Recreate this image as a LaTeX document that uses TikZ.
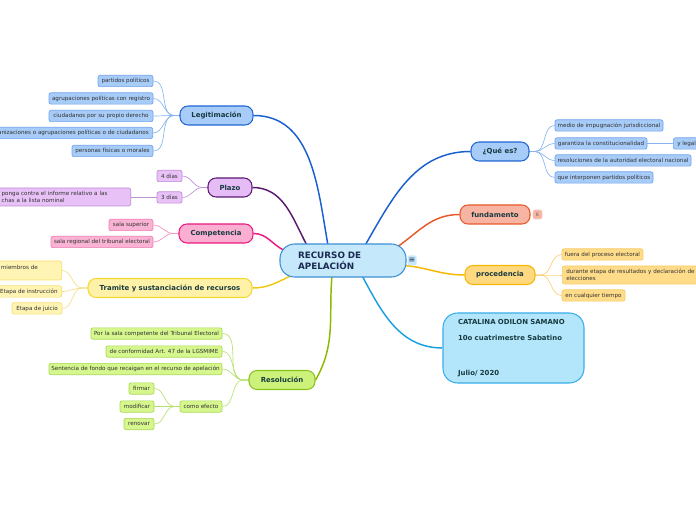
\documentclass[tikz,border=0pt]{standalone}
\usepackage{fontspec}
\setmainfont{DejaVu Sans}
\usetikzlibrary{backgrounds,calc}
\definecolor{bfill}{HTML}{A8CCF8}
\definecolor{bdraw}{HTML}{2266D4}
\definecolor{bldraw}{HTML}{6FA2EE}
\definecolor{bconn}{HTML}{1A5FD0}
\definecolor{blconn}{HTML}{8AB4F0}
\definecolor{pfill}{HTML}{E6BCF6}
\definecolor{pdraw}{HTML}{5C1A74}
\definecolor{plfill}{HTML}{E8C2F7}
\definecolor{pldraw}{HTML}{C08AD8}
\definecolor{pconn}{HTML}{5A1870}
\definecolor{plconn}{HTML}{C090D8}
\definecolor{kfill}{HTML}{F9AED2}
\definecolor{kdraw}{HTML}{EA1A80}
\definecolor{klfill}{HTML}{F9B4D4}
\definecolor{kldraw}{HTML}{F27AB4}
\definecolor{klconn}{HTML}{F590C0}
\definecolor{yfill}{HTML}{FFF2A8}
\definecolor{ydraw}{HTML}{F2D832}
\definecolor{ylfill}{HTML}{FFF4B4}
\definecolor{yldraw}{HTML}{F4E070}
\definecolor{yconn}{HTML}{F0C810}
\definecolor{ylconn}{HTML}{F2E08A}
\definecolor{gfill}{HTML}{CDF27C}
\definecolor{gdraw}{HTML}{8CC21E}
\definecolor{glfill}{HTML}{D6F68E}
\definecolor{gldraw}{HTML}{A9D852}
\definecolor{gconn}{HTML}{8CB800}
\definecolor{glconn}{HTML}{B8E070}
\definecolor{ofill}{HTML}{F8B4A2}
\definecolor{odraw}{HTML}{E8582A}
\definecolor{afill}{HTML}{FFD880}
\definecolor{adraw}{HTML}{F5B800}
\definecolor{alfill}{HTML}{FFDC8A}
\definecolor{aldraw}{HTML}{F6CC60}
\definecolor{alconn}{HTML}{F8D070}
\definecolor{catfill}{HTML}{B3E5FB}
\definecolor{catdraw}{HTML}{3AAEE8}
\definecolor{catconn}{HTML}{1AA0E0}
\definecolor{cfill}{HTML}{C6E8FB}
\definecolor{cdraw}{HTML}{3D8FD3}
\definecolor{ctext}{HTML}{1A2A50}
\definecolor{mtext}{HTML}{173B40}
\definecolor{ltext}{HTML}{303030}
\begin{document}
\begin{tikzpicture}[x=0.75pt,y=-0.75pt,
  leaf/.style={draw, line width=0.5pt, rounded corners=1.5pt, inner xsep=0pt, inner ysep=0pt,
    minimum height=8.5pt, text=ltext, font=\fontsize{4.2}{5}\selectfont},
  sz/.style={minimum width=#1*0.75pt},
  mnode/.style={draw, line width=0.8pt, rounded corners=6pt, inner sep=0pt, minimum height=14.25pt,
    text=mtext, font=\fontsize{5.2}{6.2}\selectfont\bfseries},
  bleaf/.style={leaf, fill=bfill, draw=bldraw},
  pleaf/.style={leaf, fill=plfill, draw=pldraw},
  kleaf/.style={leaf, fill=klfill, draw=kldraw},
  yleaf/.style={leaf, fill=ylfill, draw=yldraw},
  gleaf/.style={leaf, fill=glfill, draw=gldraw},
  aleaf/.style={leaf, fill=alfill, draw=aldraw},
  mconn/.style={line width=1.1pt},
  lconn/.style={line width=0.5pt}]
\useasboundingbox (0,0) rectangle (696,520);

% central
\node[draw=cdraw, fill=cfill, line width=0.8pt, rounded corners=11pt, minimum width=126*0.75pt,
  minimum height=33*0.75pt, text width=90*0.75pt, inner xsep=18*0.75pt, inner ysep=0pt, align=left,
  font=\fontsize{6.6}{8.25}\selectfont\bfseries, text=ctext] (c) at (343,260.5) {RECURSO DE\\APELACIÓN};
\node[fill=cfill, rounded corners=1pt, minimum width=9*0.75pt, minimum height=10*0.75pt, inner sep=0pt,
  text=ctext, font=\fontsize{6}{6}\selectfont] (menu) at (412,260.5) {≡};

% Legitimacion
\node[mnode, fill=bfill, draw=bdraw, sz=73] (leg) at (216.5,115.5) {Legitimación};
\node[bleaf, sz=55] (l1) at (125.5,81) {partidos políticos};
\node[bleaf, sz=104] (l2) at (101,98.5) {agrupaciones políticas con registro};
\node[bleaf, sz=104] (l3) at (101,116) {ciudadanos por su propio derecho};
\node[bleaf, anchor=east, inner xsep=3pt] (l4) at (153,133) {organizaciones o agrupaciones políticas o de ciudadanos};
\node[bleaf, sz=81] (l5) at (112.5,151) {personas físicas o morales};

% Plazo
\node[mnode, fill=pfill, draw=pdraw, sz=44] (plz) at (230,187.5) {Plazo};
\node[pleaf, sz=25] (p1) at (169.5,176) {4 días};
\node[pleaf, sz=25] (p2) at (169.5,197.5) {3 días};
\node[pleaf, anchor=east, text width=125*0.75pt, align=left, inner xsep=3pt, minimum height=18*0.75pt,
  font=\fontsize{4.2}{5.2}\selectfont] (p3) at (131,197) {ponga contra el informe relativo a las\\chas a la lista nominal};

% Competencia
\node[mnode, fill=kfill, draw=kdraw, sz=74] (comp) at (216,233.5) {Competencia};
\node[kleaf, sz=44] (k1) at (131,225) {sala superior};
\node[kleaf, sz=102] (k2) at (102,242) {sala regional del tribunal electoral};

% Tramite
\node[mnode, fill=yfill, draw=ydraw, sz=164] (tram) at (170,288) {Tramite y sustanciación de recursos};
\node[yleaf, anchor=east, text width=58*0.75pt, align=left, inner xsep=2pt, minimum height=19*0.75pt,
  font=\fontsize{4.2}{5.4}\selectfont] (t1) at (62,270.5) {miembros de\\ \mbox{}};
\node[yleaf, anchor=east, inner xsep=3pt] (t2) at (62,291.5) {Etapa de instrucción};
\node[yleaf, sz=50] (t3) at (37,308.5) {Etapa de juicio};

% Resolucion
\node[mnode, fill=gfill, draw=gdraw, sz=66] (res) at (282,380) {Resolución};
\node[gleaf, sz=131] (r1) at (156.5,333.5) {Por la sala competente del Tribunal Electoral};
\node[gleaf, sz=116] (r2) at (164,351.5) {de conformidad Art. 47 de la LGSMIME};
\node[gleaf, sz=173] (r3) at (135.5,369) {Sentencia de fondo que recaigan en el recurso de apelación};
\node[gleaf, sz=42] (r4) at (201,406.5) {como efecto};
\node[gleaf, sz=25] (r5) at (141.5,388.5) {firmar};
\node[gleaf, sz=34] (r6) at (137,406.5) {modificar};
\node[gleaf, sz=30] (r7) at (139,424) {renovar};

% Que es
\node[mnode, fill=bfill, draw=bdraw, sz=58] (que) at (500,151.5) {¿Qué es?};
\node[bleaf, sz=108] (q1) at (609,125.5) {medio de impugnación jurisdiccional};
\node[bleaf, sz=92] (q2) at (601,143.5) {garantiza la constitucionalidad};
\node[bleaf, anchor=west, inner xsep=3pt] (q2a) at (673,143.5) {y legalidad};
\node[bleaf, sz=136] (q3) at (623,160.5) {resoluciones de la autoridad electoral nacional};
\node[bleaf, sz=98] (q4) at (604,177.5) {que interponen partidos políticos};

% fundamento
\node[mnode, fill=ofill, draw=odraw, sz=70] (fund) at (495,214.5) {fundamento};
\node[fill=ofill, draw=ofill!70!white, line width=0.4pt, rounded corners=1.5pt, minimum width=9*0.75pt,
  minimum height=9*0.75pt, inner sep=0pt, text=black!60, font=\fontsize{3.6}{4}\selectfont] (badge) at (537.5,214.5) {6};

% procedencia
\node[mnode, fill=afill, draw=adraw, sz=70] (proc) at (500,275) {procedencia};
\node[aleaf, sz=81] (a1) at (602.5,254.5) {fuera del proceso electoral};
\node[aleaf, anchor=west, text width=150*0.75pt, align=left, inner xsep=3pt, minimum height=18*0.75pt,
  font=\fontsize{4.2}{5.2}\selectfont] (a2) at (562,275) {durante etapa de resultados y declaración de validez\\elecciones};
\node[aleaf, sz=63] (a3) at (593.5,295.5) {en cualquier tiempo};

% Catalina
\node[draw=catdraw, fill=catfill, line width=0.8pt, rounded corners=11pt, minimum width=141*0.75pt,
  minimum height=70*0.75pt, text width=111*0.75pt, inner xsep=15*0.75pt, inner ysep=0pt, align=left,
  font=\fontsize{5.2}{9}\selectfont\bfseries, text=mtext] (cat) at (513.5,348)
  {CATALINA ODILON SAMANO\\[3pt]10o cuatrimestre Sabatino\\[17.25pt]Julio/ 2020};

\begin{scope}[on background layer]
% main connectors
\draw[mconn, bconn] (leg.east) to[out=0, in=100] ($(c.north)+(-15,2)$);
\draw[mconn, pconn] (plz.east) to[out=0, in=118] ($(c.north)+(-36,2)$);
\draw[mconn, kdraw] (comp.east) to[out=0, in=155] ($(c.west)+(5,-10)$);
\draw[mconn, yconn] (tram.east) to[out=0, in=205] ($(c.west)+(12,15)$);
\draw[mconn, gconn] (res.east) to[out=60, in=-95] ($(c.south)+(-11,-2)$);
\draw[mconn, bconn] ($(c.north)+(22,2)$) to[out=60, in=180] (que.west);
\draw[mconn, odraw] ($(c.north east)+(-10,4)$) to[out=35, in=180] (fund.west);
\draw[mconn, adraw] ($(c.east)+(-2,5)$) to[out=-5, in=180] (proc.west);
\draw[mconn, catconn] ($(c.south)+(19,-2)$) to[out=-62, in=180] (cat.west);
% leaf connectors
\foreach \n in {l1,l2,l3,l4,l5}
  \draw[lconn, blconn] (leg.west) -- +(-5,0) to[out=180, in=0] (\n.east);
\foreach \n in {p1,p2}
  \draw[lconn, plconn] (plz.west) -- +(-5,0) to[out=180, in=0] (\n.east);
\draw[lconn, plconn] (p2.west) -- (p3.east |- p2.west);
\foreach \n in {k1,k2}
  \draw[lconn, klconn] (comp.west) -- +(-5,0) to[out=180, in=0] (\n.east);
\foreach \n in {t1,t2,t3}
  \draw[lconn, ylconn] (tram.west) -- +(-5,0) to[out=180, in=0] (\n.east);
\foreach \n in {r1,r2,r3,r4}
  \draw[lconn, glconn] (res.west) -- +(-5,0) to[out=180, in=0] (\n.east);
\foreach \n in {r5,r6,r7}
  \draw[lconn, glconn] (r4.west) -- +(-5,0) to[out=180, in=0] (\n.east);
\foreach \n in {q1,q2,q3,q4}
  \draw[lconn, blconn] (que.east) -- +(5,0) to[out=0, in=180] (\n.west);
\draw[lconn, blconn] (q2.east) -- (q2a.west);
\foreach \n in {a1,a2,a3}
  \draw[lconn, alconn] (proc.east) -- +(5,0) to[out=0, in=180] (\n.west);
\end{scope}
\end{tikzpicture}
\end{document}
